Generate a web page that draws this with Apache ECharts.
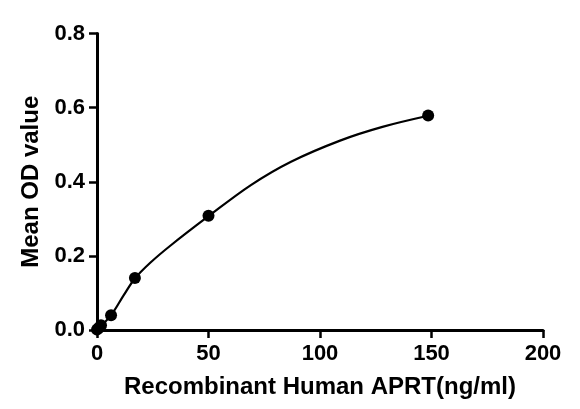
<!DOCTYPE html>
<html>
<head>
<meta charset="utf-8">
<script src="https://cdn.jsdelivr.net/npm/echarts@6/dist/echarts.min.js"></script>
<style>
html,body{margin:0;padding:0;background:#fff;}
#c{width:580px;height:409px;}
</style>
</head>
<body>
<div id="c"></div>
<script>
// Standard points (concentration ng/ml, mean OD)
const conc = [0, 0.6, 1.8, 6.3, 17, 50, 148.5];
const od = [0.001, 0.005, 0.013, 0.040, 0.140, 0.308, 0.579];
// Fitted curve
const curveX = [0, 6.3, 12, 17, 24, 33, 50, 69, 87, 109, 128, 148.5];
const curveY = [0, 0.040, 0.094, 0.139, 0.182, 0.228, 0.307, 0.391, 0.454, 0.511, 0.548, 0.578];
const xTicks = [0, 50, 100, 150, 200];
const yTicks = [0.0, 0.2, 0.4, 0.6, 0.8];
const xTitle = 'Recombinant Human APRT(ng/ml)';
const yTitle = 'Mean OD value';

const chart = echarts.init(document.getElementById('c'), null, {renderer: 'canvas'});
const font = 'Liberation Sans, Arial, sans-serif';
chart.setOption({
  backgroundColor: '#fff',
  animation: false,
  grid: {left: 97, right: 37, top: 33.5, bottom: 79},
  xAxis: {
    type: 'value', min: xTicks[0], max: xTicks[xTicks.length - 1], interval: 50,
    name: xTitle, nameLocation: 'middle', nameGap: 45,
    nameTextStyle: {fontFamily: font, fontWeight: 'bold', fontSize: 24, color: '#000'},
    axisLine: {show: true, onZero: false, lineStyle: {color: '#000', width: 3}},
    axisTick: {show: true, length: 8, lineStyle: {color: '#000', width: 2.5}},
    axisLabel: {margin: 13, fontFamily: font, fontWeight: 'bold', fontSize: 22, color: '#000',
      formatter: v => String(v)},
    splitLine: {show: false}
  },
  yAxis: {
    type: 'value', min: yTicks[0], max: yTicks[yTicks.length - 1], interval: 0.2,
    name: yTitle, nameLocation: 'middle', nameGap: 51, nameRotate: 90,
    nameTextStyle: {fontFamily: font, fontWeight: 'bold', fontSize: 24, color: '#000'},
    axisLine: {show: true, onZero: false, lineStyle: {color: '#000', width: 3}},
    axisTick: {show: true, length: 8, lineStyle: {color: '#000', width: 2.5}},
    axisLabel: {margin: 12, fontFamily: font, fontWeight: 'bold', fontSize: 22, color: '#000',
      formatter: v => v.toFixed(1)},
    splitLine: {show: false}
  },
  series: [
    {
      type: 'line', smooth: 0.35, symbol: 'none',
      data: curveX.map((x, i) => [x, curveY[i]]),
      lineStyle: {color: '#000', width: 2.2}
    },
    {
      type: 'scatter', symbol: 'circle', symbolSize: 12,
      data: conc.map((x, i) => [x, od[i]]),
      itemStyle: {color: '#000', opacity: 1}
    }
  ]
});
</script>
</body>
</html>
